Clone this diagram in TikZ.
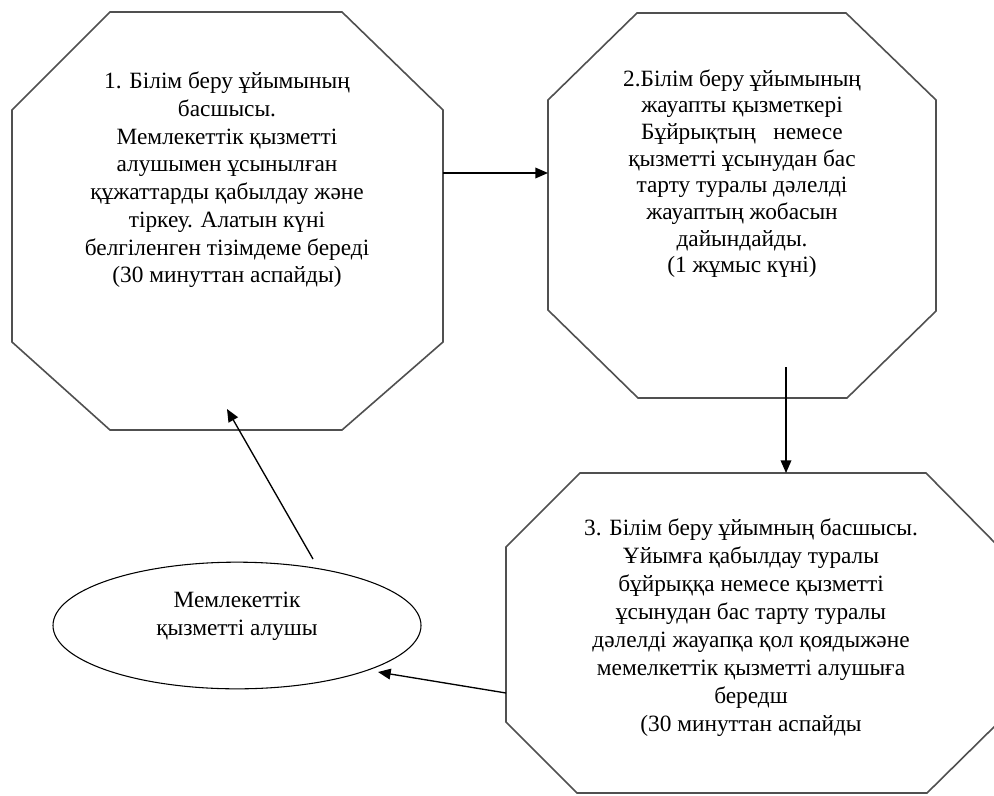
\documentclass[tikz,border=0pt]{standalone}
\usepackage{fontspec}
\setmainfont{Liberation Serif}
\usetikzlibrary{shapes.geometric,arrows.meta}
\definecolor{octgray}{RGB}{80,80,80}
\begin{document}
\begin{tikzpicture}[x=0.75pt,y=-0.75pt,
  octo/.style={draw=octgray, line width=1.2pt, line join=miter},
  txt/.style={align=center, inner sep=0pt, text=black, font=\fontsize{17.5}{20.8}\selectfont},
  conn/.style={draw=black, line width=1pt, -{Triangle[length=9.5pt,width=8pt]}}]
\clip (0,0) rectangle (994,795);
\fill[white] (0,0) rectangle (994,795);

% octagon 1
\draw[octo] (110,12) -- (342,12) -- (443,110) -- (443,342) -- (342,430) -- (110,430) -- (12,342) -- (12,110) -- cycle;
\node[txt] (t1) at (227,180) {1. Білім беру ұйымының\\басшысы.\\Мемлекеттік қызметті\\алушымен ұсынылған\\құжаттарды қабылдау және\\тіркеу. Алатын күні\\белгіленген тізімдеме береді\\(30 минуттан аспайды)};

% octagon 2
\draw[octo] (637,13) -- (846,13) -- (936,100) -- (936,311) -- (847,398) -- (638,398) -- (548,310) -- (548,100) -- cycle;
\node[txt, font=\fontsize{17.5}{20}\selectfont] (t2) at (742,173.5) {2.Білім беру ұйымының\\жауапты қызметкері\\Бұйрықтың\ \ \ немесе\\қызметті ұсынудан бас\\тарту туралы дәлелді\\жауаптың жобасын\\дайындайды.\\(1 жұмыс күні)};

% octagon 3
\draw[octo] (580,473) -- (926,473) -- (999,547) -- (999,722) -- (927,793) -- (577,793) -- (506,722) -- (506,547) -- cycle;
\node[txt, font=\fontsize{17.5}{21}\selectfont] (t3) at (751,628) {3. Білім беру ұйымның басшысы.\\Ұйымға қабылдау туралы\\бұйрыққа немесе қызметті\\ұсынудан бас тарту туралы\\дәлелді жауапқа қол қоядыжәне\\мемелкеттік қызметті алушыға\\бередш\\(30 минуттан аспайды};

% ellipse
\node[ellipse, draw=black, line width=0.8pt, minimum width=276pt, minimum height=95pt, inner sep=0pt] (e) at (237,625.5) {};
\node[txt, font=\fontsize{17.5}{21}\selectfont] (et) at (237,616) {Мемлекеттік\\қызметті алушы};

% connector ends
\coordinate (a1s) at (443,173);
\coordinate (a1e) at (548,173);
\coordinate (a2s) at (786,367);
\coordinate (a2e) at (786,473);
\coordinate (a3s) at (506,693);
\coordinate (a3e) at (378,672);
\coordinate (a4s) at (313,559);
\coordinate (a4e) at (227,409);

\draw[conn] (a1s) -- (a1e);
\draw[conn] (a2s) -- (a2e);
\draw[conn] (a3s) -- (a3e);
\draw[conn] (a4s) -- (a4e);
\end{tikzpicture}
\end{document}
